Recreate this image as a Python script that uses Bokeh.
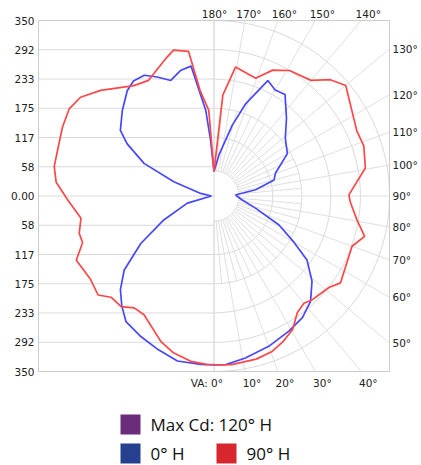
import numpy as np
from bokeh.plotting import figure
from bokeh.models import Range1d
from bokeh.core.properties import value
from bokeh.embed import file_html
from bokeh.resources import INLINE

# ---------------- data ----------------
grid_max = 350
cd_labels = ["350", "292", "233", "175", "117", "58", "0.00",
             "58", "117", "175", "233", "292", "350"]
arc_values = [117, 175, 233, 292, 350]
inner_value = 50
right_label_angles = [130, 120, 110, 100, 90, 80, 70, 60, 50]
top_label_angles = [180, 170, 160, 150, 140]
bottom_label_angles = [0, 10, 20, 30, 40]

# 0° H plane (right) and 180° H plane (left) -- blue
blue_right_ang = [0, 4, 11, 20, 29, 36, 42.5, 49, 55.5, 60, 66, 73.5, 82, 92.5, 94.5,
                  98.5, 105, 110.5, 120, 129, 137, 145, 150, 155, 161, 165.5, 173, 180]
blue_right_cd = [337, 337, 329, 319, 308, 300, 285, 259, 225, 184, 142, 87, 57, 43, 50,
                 84, 124, 131, 169, 183, 212, 247, 244, 254, 195, 146, 83, 49]
blue_left_ang = [0, 4.5, 12.5, 20, 27.5, 35, 40, 45, 50.5, 57, 64.5, 75, 90, 101, 109.5,
                 115, 121, 125, 133, 140.5, 145, 150, 154.5, 159.5, 165, 170, 174.5,
                 176.5, 180]
blue_left_cd = [337, 337, 337, 326, 316, 306, 286, 264, 232, 174, 111, 55, 5, 27, 85,
                154, 202, 228, 250, 272, 280, 278, 263, 246, 259, 263, 172, 111, 49]
# 90° H plane (right) and 270° H plane (left) -- red
red_right_ang = [0, 6, 14.5, 20.5, 25.5, 30.5, 35.5, 40, 43.5, 51.5, 55.5, 70, 75, 80.5,
                 87.5, 90.5, 100.5, 108.5, 114.5, 130, 135, 140, 149, 155, 160.5, 170.5,
                 175, 180]
red_right_cd = [337, 338, 336, 331, 321, 309, 286, 279, 285, 293, 306, 293, 311, 289,
                272, 269, 307, 315, 313, 343, 328, 301, 292, 277, 249, 261, 202, 49]
red_left_ang = [0, 2.5, 8, 14.5, 20, 30.5, 35.5, 40, 45.5, 49.5, 56, 65, 70.5, 74.5, 80.5,
                88.5, 95, 100.5, 109.5, 114.5, 121, 126.5, 133, 144, 150.5, 160.5, 164.5,
                170, 172.5, 176.5, 180]
red_left_cd = [336, 336, 333, 323, 309, 275, 274, 288, 288, 304, 297, 303, 278, 279, 269,
               292, 316, 324, 327, 332, 337, 331, 309, 272, 265, 290, 302, 293, 212, 171, 49]

legend_labels = ["Max Cd: 120° H", "0° H", "90° H"]
legend_colors = ["#6b2d7b", "#25408f", "#d7262e"]

# ---------------- layout ----------------
W, H = 421, 465
ORG = 0                                        # picture origin of the figure
F_L, F_T, F_R, F_B = 38, 20, 389, 371          # picture pixels of the plot square
CX, CY = (F_L + F_R) / 2, (F_T + F_B) / 2
PX = (F_R - F_L) / (2 * grid_max)


def dx(px):
    return (px - CX) / PX


def dy(py):
    return (CY - py) / PX


p = figure(width=W, height=H, output_backend="svg", toolbar_location=None,
           x_range=Range1d(dx(ORG), dx(ORG + W)), y_range=Range1d(dy(ORG + H), dy(ORG)),
           min_border=0, x_axis_type=None, y_axis_type=None)
p.outline_line_color = None
p.background_fill_color = "white"

GRID = "#d9d9d9"
FONT = value("DejaVu Sans")

# left half horizontal lines
tick_pos = np.linspace(grid_max, -grid_max, len(cd_labels))
p.multi_line(xs=[[-grid_max, 0] for _ in tick_pos], ys=[[t, t] for t in tick_pos],
             line_color=GRID, line_width=1)
# vertical centre line
p.line([0, 0], [-grid_max, grid_max], line_color=GRID, line_width=1)

# arcs on the right half
th = np.radians(np.linspace(0, 180, 181))
arc_xs, arc_ys = [], []
for r in [inner_value] + arc_values:
    arc_xs.append(list(r * np.sin(th)))
    arc_ys.append(list(-r * np.cos(th)))
p.multi_line(xs=arc_xs, ys=arc_ys, line_color=GRID, line_width=1)

# radial lines
rad_xs, rad_ys = [], []
for a in range(0, 181, 5):
    t = np.radians(a)
    s, c = np.sin(t), np.cos(t)
    if a % 10 == 0:
        lims = []
        if abs(s) > 1e-9:
            lims.append(grid_max / abs(s))
        if abs(c) > 1e-9:
            lims.append(grid_max / abs(c))
        r_end = min(lims)
    else:
        r_end = 175
    rad_xs.append([inner_value * s, r_end * s])
    rad_ys.append([-inner_value * c, -r_end * c])
p.multi_line(xs=rad_xs, ys=rad_ys, line_color="#e0e0e0", line_width=1)

# frame
p.rect(0, 0, 2 * grid_max, 2 * grid_max, fill_color=None, line_color="#cccccc", line_width=1)


def polar(ang, cd, side):
    a = np.radians(np.array(ang, dtype=float))
    r = np.array(cd, dtype=float)
    return side * r * np.sin(a), -r * np.cos(a)


BLUE, RED = "#4747ff", "#ff4747"
for ang, cd, side in [(blue_right_ang, blue_right_cd, 1), (blue_left_ang, blue_left_cd, -1)]:
    x, y = polar(ang, cd, side)
    p.line(x, y, line_color=BLUE, line_width=1.7)
for ang, cd, side in [(red_right_ang, red_right_cd, 1), (red_left_ang, red_left_cd, -1)]:
    x, y = polar(ang, cd, side)
    p.line(x, y, line_color=RED, line_width=1.7)

# left candela labels
p.text(x=[dx(34)] * len(tick_pos), y=list(tick_pos), text=cd_labels,
       text_font=FONT, text_font_size="10.5px", text_color="#222222",
       text_align="right", text_baseline="middle")

# right angle labels
ry = [-grid_max * np.cos(np.radians(a)) / np.sin(np.radians(a)) for a in right_label_angles]
p.text(x=[dx(392)] * len(ry), y=ry, text=[f"{a}°" for a in right_label_angles],
       text_font=FONT, text_font_size="10.5px", text_color="#222222",
       text_align="left", text_baseline="middle")

# top angle labels
top_off = {180: 0.5, 170: 4, 160: 6.5, 150: 7, 140: 7}
tx = [grid_max * np.tan(np.radians(180 - a)) + top_off[a] / PX for a in top_label_angles]
p.text(x=tx, y=[dy(13)] * len(tx), text=[f"{a}°" for a in top_label_angles],
       text_font=FONT, text_font_size="10.5px", text_color="#222222",
       text_align="center", text_baseline="middle")

# bottom angle labels
bx = [grid_max * np.tan(np.radians(a)) + 7 / PX for a in bottom_label_angles[1:]]
p.text(x=bx, y=[dy(382.5)] * len(bx), text=[f"{a}°" for a in bottom_label_angles[1:]],
       text_font=FONT, text_font_size="10.5px", text_color="#222222",
       text_align="center", text_baseline="middle")
p.text(x=[dx(222.5)], y=[dy(382.5)], text=[f"VA: {bottom_label_angles[0]}°"],
       text_font=FONT, text_font_size="10.5px", text_color="#222222",
       text_align="right", text_baseline="middle")

# legend
lg_x = [dx(130), dx(130), dx(226)]
lg_y = [dy(424), dy(453), dy(453)]
p.rect(x=lg_x, y=lg_y, width=20, height=20, width_units="screen", height_units="screen",
       fill_color=legend_colors, line_color=None)
p.text(x=[v + 20 / PX for v in lg_x], y=lg_y, text=legend_labels,
       text_font=value("Open Sans"), text_font_size="17px", text_color="#111111",
       text_align="left", text_baseline="middle")

open("out.html", "w").write(file_html(p, INLINE))
